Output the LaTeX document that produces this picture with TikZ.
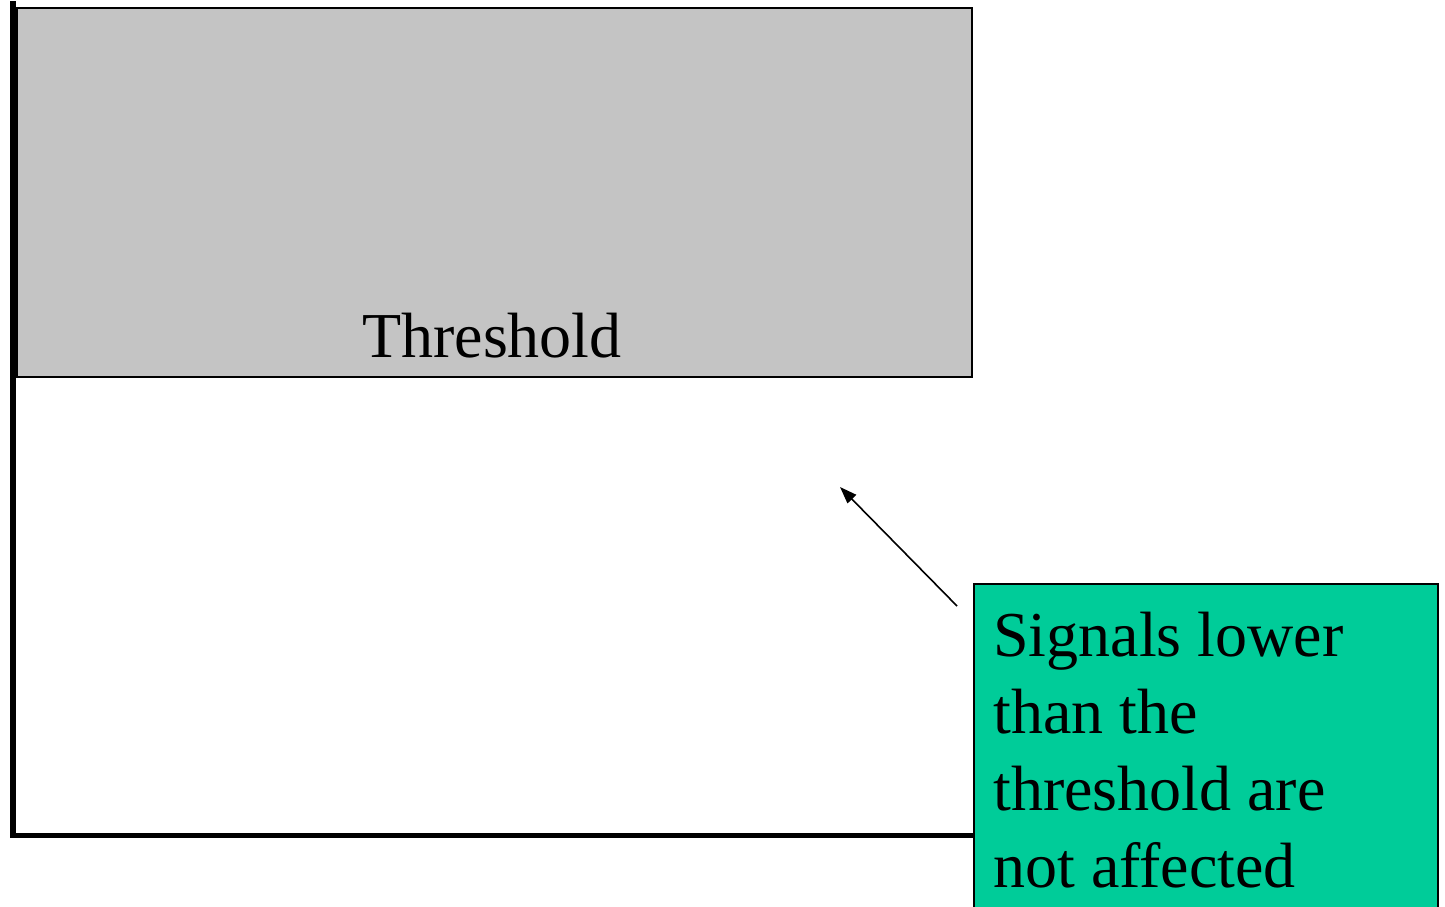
\documentclass[tikz,border=0pt]{standalone}
\usepackage{fontspec}
\setmainfont{Liberation Serif}
\usetikzlibrary{arrows.meta}
\definecolor{shade}{HTML}{C4C4C4}
\definecolor{notegreen}{HTML}{00CC99}
\tikzset{
  axisline/.style={line width=5.5pt, line cap=rect},
  thresholdbox/.style={draw, line width=1.8pt, fill=shade, rectangle, inner sep=0pt, anchor=north west},
  notebox/.style={draw, line width=1.8pt, fill=notegreen, rectangle, inner sep=0pt, anchor=north west},
  bigtext/.style={font=\fontsize{64}{76.7}\selectfont, inner sep=0pt},
  pointer/.style={line width=1.6pt, -{Triangle[length=17pt,width=12pt]}}
}
\begin{document}
\begin{tikzpicture}[x=1pt,y=-1pt]
\useasboundingbox (0,0) rectangle (1445,907);
\clip (0,0) rectangle (1445,907);
\fill[white] (0,0) rectangle (1445,907);
% threshold region
\node[thresholdbox, minimum width=955pt, minimum height=369pt] (thr) at (16,7) {};
\node[bigtext, anchor=base] (thrlabel) at (492,357) {Threshold};
% axes
\coordinate (top) at (13,4);
\coordinate (origin) at (13,835.5);
\coordinate (xend) at (972,835.5);
\draw[axisline] (top) -- (origin) -- (xend);
% note box
\node[notebox, minimum width=464pt, minimum height=360pt] (note) at (973,583) {};
\node[bigtext, anchor=base west, align=left] (notetext) at (993,887)
  {Signals lower\\than the\\threshold are\\not affected};
% arrow
\coordinate (tail) at (957,606);
\coordinate (tip) at (840,487);
\draw[pointer] (tail) -- (tip);
\end{tikzpicture}
\end{document}
